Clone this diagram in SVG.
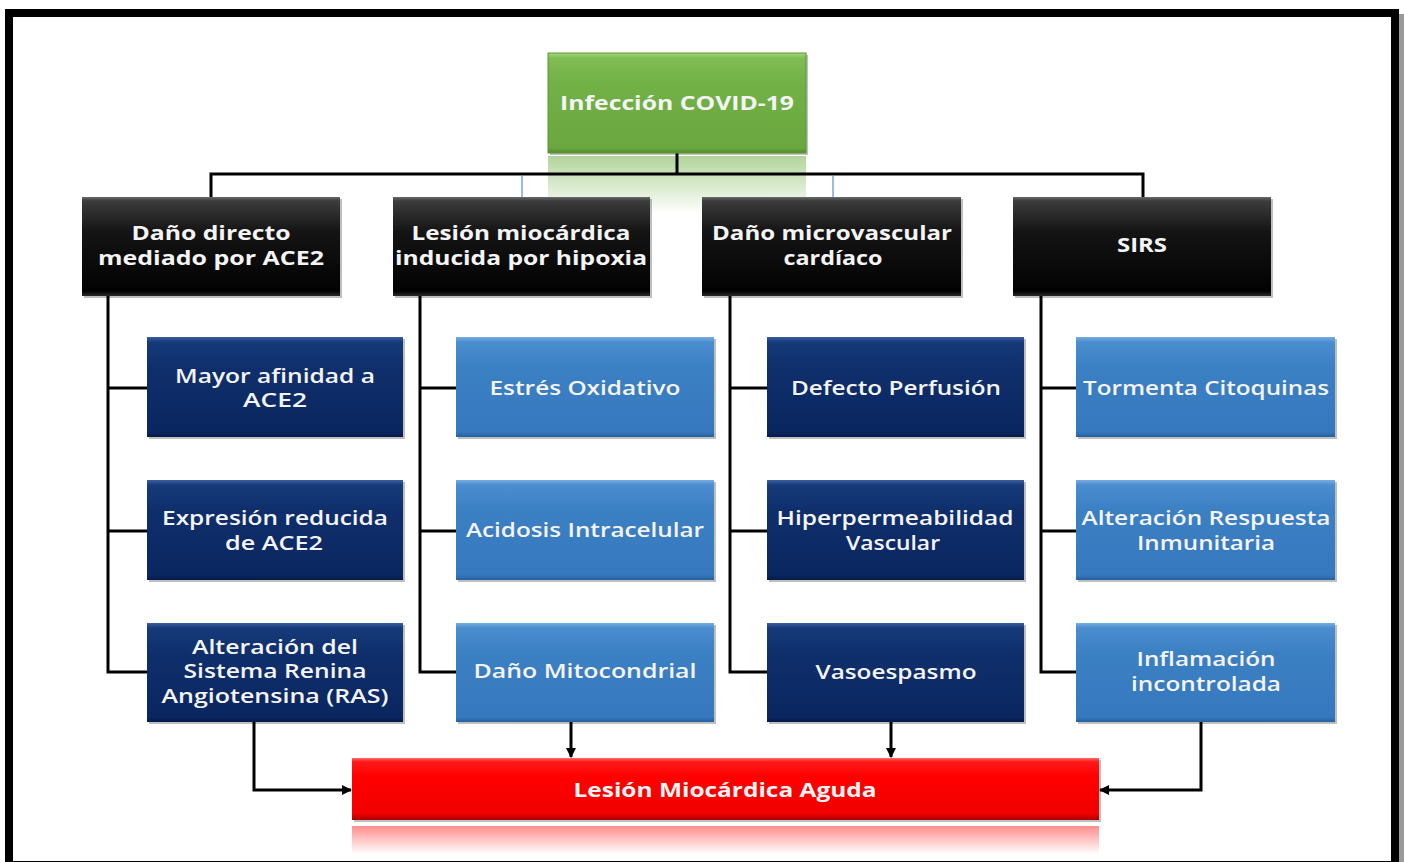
<svg xmlns="http://www.w3.org/2000/svg" width="1404" height="862" viewBox="0 0 1404 862">
<style>
  .t { font-family: "Open Sans", "DejaVu Sans", sans-serif; font-size: 19px; fill: #f4f4f4; text-anchor: middle; }
  .hb { font-weight: bold; }
  .sb { font-weight: 600; }
  .ln { fill: none; stroke: #000; stroke-width: 3; }
  .thin { fill: none; stroke: #5b8fc7; stroke-width: 1.2; }
  .shadow { fill: #000; opacity: 0.25; }
</style>
<defs>
  <linearGradient id="gBlack" x1="0" y1="0" x2="0" y2="1">
    <stop offset="0" stop-color="#6a6a6a"/>
    <stop offset="0.04" stop-color="#3c3c3c"/>
    <stop offset="0.35" stop-color="#141414"/>
    <stop offset="0.95" stop-color="#020202"/>
    <stop offset="1" stop-color="#2a2a2a"/>
  </linearGradient>
  <linearGradient id="gNavy" x1="0" y1="0" x2="0" y2="1">
    <stop offset="0" stop-color="#3a5f9e"/>
    <stop offset="0.05" stop-color="#163a7a"/>
    <stop offset="0.3" stop-color="#0f2f6c"/>
    <stop offset="0.95" stop-color="#0a2660"/>
    <stop offset="1" stop-color="#061a48"/>
  </linearGradient>
  <linearGradient id="gLight" x1="0" y1="0" x2="0" y2="1">
    <stop offset="0" stop-color="#79ade0"/>
    <stop offset="0.05" stop-color="#4a8ed0"/>
    <stop offset="0.3" stop-color="#3c80c4"/>
    <stop offset="0.95" stop-color="#3678bd"/>
    <stop offset="1" stop-color="#24609e"/>
  </linearGradient>
  <linearGradient id="gGreen" x1="0" y1="0" x2="0" y2="1">
    <stop offset="0" stop-color="#a6d67e"/>
    <stop offset="0.05" stop-color="#80bd54"/>
    <stop offset="0.3" stop-color="#72b146"/>
    <stop offset="0.95" stop-color="#6aa83f"/>
    <stop offset="1" stop-color="#4f8a2a"/>
  </linearGradient>
  <linearGradient id="gRed" x1="0" y1="0" x2="0" y2="1">
    <stop offset="0" stop-color="#ff6a6a"/>
    <stop offset="0.06" stop-color="#ff1a1a"/>
    <stop offset="0.3" stop-color="#ff0000"/>
    <stop offset="0.9" stop-color="#f00000"/>
    <stop offset="1" stop-color="#a80000"/>
  </linearGradient>
  <linearGradient id="gGreenRef" x1="0" y1="0" x2="0" y2="1">
    <stop offset="0" stop-color="#72b146" stop-opacity="0.55"/>
    <stop offset="1" stop-color="#72b146" stop-opacity="0"/>
  </linearGradient>
  <linearGradient id="gRedRef" x1="0" y1="0" x2="0" y2="1">
    <stop offset="0" stop-color="#ff4040" stop-opacity="0.6"/>
    <stop offset="1" stop-color="#ff4040" stop-opacity="0"/>
  </linearGradient>
  <marker id="arr" markerUnits="userSpaceOnUse" markerWidth="10" markerHeight="10" refX="9" refY="5" orient="auto">
    <path d="M0,0 L10,5 L0,10 z" fill="#000"/>
  </marker>
</defs>

<rect x="0" y="0" width="1404" height="862" fill="#fff"/>
<!-- frame -->
<rect x="1399" y="14" width="5" height="848" fill="#9a9a9a"/>
<rect x="9" y="13" width="1386" height="852" fill="none" stroke="#000" stroke-width="8"/>

<!-- reflections -->
<rect x="548" y="156" width="258" height="58" fill="url(#gGreenRef)"/>
<rect x="352" y="826" width="747" height="28" fill="url(#gRedRef)"/>

<g id="connectors">
  <path class="ln" d="M677 153 V174"/>
  <path class="ln" d="M211 197 V174 H1143 V197"/>
  <path class="thin" d="M522 175 V197 M833 175 V197"/>
  <path class="ln" d="M108 296 V672 H147 M108 388 H147 M108 531 H147"/>
  <path class="ln" d="M420 296 V672 H456 M420 388 H456 M420 531 H456"/>
  <path class="ln" d="M730 296 V672 H767 M730 388 H767 M730 531 H767"/>
  <path class="ln" d="M1041 296 V672 H1076 M1041 388 H1076 M1041 531 H1076"/>
  <path class="ln" d="M254 722 V790 H351" marker-end="url(#arr)"/>
  <path class="ln" d="M571 722 V757" marker-end="url(#arr)"/>
  <path class="ln" d="M891 722 V757" marker-end="url(#arr)"/>
  <path class="ln" d="M1201 722 V790 H1100" marker-end="url(#arr)"/>
</g>

<g id="n-covid">
  <rect class="shadow" x="550" y="55" width="258" height="100"/>
  <rect x="548" y="53" width="258" height="100" fill="url(#gGreen)" stroke="#5d9634" stroke-width="1"/>
  <text class="t hb" x="677" y="110" textLength="234" lengthAdjust="spacingAndGlyphs">Infección COVID-19</text>
</g>

<g id="n-ace2">
  <rect class="shadow" x="84" y="199" width="258" height="99"/>
  <rect x="82" y="197" width="258" height="99" fill="url(#gBlack)"/>
  <text class="t hb" x="211" y="240" textLength="159" lengthAdjust="spacingAndGlyphs">Daño directo</text>
  <text class="t hb" x="211" y="265" textLength="226" lengthAdjust="spacingAndGlyphs">mediado por ACE2</text>
</g>
<g id="n-hipoxia">
  <rect class="shadow" x="395" y="199" width="257" height="99"/>
  <rect x="393" y="197" width="257" height="99" fill="url(#gBlack)"/>
  <text class="t hb" x="521" y="240" textLength="219" lengthAdjust="spacingAndGlyphs">Lesión miocárdica</text>
  <text class="t hb" x="521" y="265" textLength="252" lengthAdjust="spacingAndGlyphs">inducida por hipoxia</text>
</g>
<g id="n-micro">
  <rect class="shadow" x="704" y="199" width="259" height="99"/>
  <rect x="702" y="197" width="259" height="99" fill="url(#gBlack)"/>
  <text class="t hb" x="832" y="240" textLength="240" lengthAdjust="spacingAndGlyphs">Daño microvascular</text>
  <text class="t hb" x="833" y="265" textLength="99" lengthAdjust="spacingAndGlyphs">cardíaco</text>
</g>
<g id="n-sirs">
  <rect class="shadow" x="1015" y="199" width="258" height="99"/>
  <rect x="1013" y="197" width="258" height="99" fill="url(#gBlack)"/>
  <text class="t hb" x="1142" y="252" textLength="50" lengthAdjust="spacingAndGlyphs">SIRS</text>
</g>

<!-- column 1 -->
<g id="n-afinidad">
  <rect class="shadow" x="149" y="339" width="256" height="100"/>
  <rect x="147" y="337" width="256" height="100" fill="url(#gNavy)"/>
  <text class="t sb" x="275" y="383" textLength="200" lengthAdjust="spacingAndGlyphs">Mayor afinidad a</text>
  <text class="t sb" x="275" y="407" textLength="64" lengthAdjust="spacingAndGlyphs">ACE2</text>
</g>
<g id="n-expresion">
  <rect class="shadow" x="149" y="482" width="256" height="100"/>
  <rect x="147" y="480" width="256" height="100" fill="url(#gNavy)"/>
  <text class="t sb" x="275" y="525" textLength="226" lengthAdjust="spacingAndGlyphs">Expresión reducida</text>
  <text class="t sb" x="274" y="550" textLength="98" lengthAdjust="spacingAndGlyphs">de ACE2</text>
</g>
<g id="n-ras">
  <rect class="shadow" x="149" y="625" width="256" height="99"/>
  <rect x="147" y="623" width="256" height="99" fill="url(#gNavy)"/>
  <text class="t sb" x="275" y="654" textLength="166" lengthAdjust="spacingAndGlyphs">Alteración del</text>
  <text class="t sb" x="275" y="678" textLength="183" lengthAdjust="spacingAndGlyphs">Sistema Renina</text>
  <text class="t sb" x="275" y="703" textLength="227" lengthAdjust="spacingAndGlyphs">Angiotensina (RAS)</text>
</g>

<!-- column 2 -->
<g id="n-estres">
  <rect class="shadow" x="458" y="339" width="258" height="100"/>
  <rect x="456" y="337" width="258" height="100" fill="url(#gLight)"/>
  <text class="t sb" x="585" y="395" textLength="191" lengthAdjust="spacingAndGlyphs">Estrés Oxidativo</text>
</g>
<g id="n-acidosis">
  <rect class="shadow" x="458" y="482" width="258" height="100"/>
  <rect x="456" y="480" width="258" height="100" fill="url(#gLight)"/>
  <text class="t sb" x="585" y="537" textLength="238" lengthAdjust="spacingAndGlyphs">Acidosis Intracelular</text>
</g>
<g id="n-mito">
  <rect class="shadow" x="458" y="625" width="258" height="99"/>
  <rect x="456" y="623" width="258" height="99" fill="url(#gLight)"/>
  <text class="t sb" x="585" y="678" textLength="223" lengthAdjust="spacingAndGlyphs">Daño Mitocondrial</text>
</g>

<!-- column 3 -->
<g id="n-perfusion">
  <rect class="shadow" x="769" y="339" width="257" height="100"/>
  <rect x="767" y="337" width="257" height="100" fill="url(#gNavy)"/>
  <text class="t sb" x="896" y="395" textLength="210" lengthAdjust="spacingAndGlyphs">Defecto Perfusión</text>
</g>
<g id="n-hiper">
  <rect class="shadow" x="769" y="482" width="257" height="100"/>
  <rect x="767" y="480" width="257" height="100" fill="url(#gNavy)"/>
  <text class="t sb" x="895" y="525" textLength="237" lengthAdjust="spacingAndGlyphs">Hiperpermeabilidad</text>
  <text class="t sb" x="893" y="550" textLength="94" lengthAdjust="spacingAndGlyphs">Vascular</text>
</g>
<g id="n-vaso">
  <rect class="shadow" x="769" y="625" width="257" height="99"/>
  <rect x="767" y="623" width="257" height="99" fill="url(#gNavy)"/>
  <text class="t sb" x="896" y="679" textLength="161" lengthAdjust="spacingAndGlyphs">Vasoespasmo</text>
</g>

<!-- column 4 -->
<g id="n-tormenta">
  <rect class="shadow" x="1078" y="339" width="259" height="100"/>
  <rect x="1076" y="337" width="259" height="100" fill="url(#gLight)"/>
  <text class="t sb" x="1206" y="395" textLength="246" lengthAdjust="spacingAndGlyphs">Tormenta Citoquinas</text>
</g>
<g id="n-inmune">
  <rect class="shadow" x="1078" y="482" width="259" height="100"/>
  <rect x="1076" y="480" width="259" height="100" fill="url(#gLight)"/>
  <text class="t sb" x="1206" y="525" textLength="249" lengthAdjust="spacingAndGlyphs">Alteración Respuesta</text>
  <text class="t sb" x="1206" y="550" textLength="138" lengthAdjust="spacingAndGlyphs">Inmunitaria</text>
</g>
<g id="n-inflamacion">
  <rect class="shadow" x="1078" y="625" width="259" height="99"/>
  <rect x="1076" y="623" width="259" height="99" fill="url(#gLight)"/>
  <text class="t sb" x="1206" y="666" textLength="139" lengthAdjust="spacingAndGlyphs">Inflamación</text>
  <text class="t sb" x="1206" y="691" textLength="150" lengthAdjust="spacingAndGlyphs">incontrolada</text>
</g>

<g id="n-lesion">
  <rect class="shadow" x="354" y="760" width="747" height="62"/>
  <rect x="352" y="758" width="747" height="62" fill="url(#gRed)"/>
  <text class="t hb" x="725" y="797" textLength="303" lengthAdjust="spacingAndGlyphs">Lesión Miocárdica Aguda</text>
</g>
</svg>
